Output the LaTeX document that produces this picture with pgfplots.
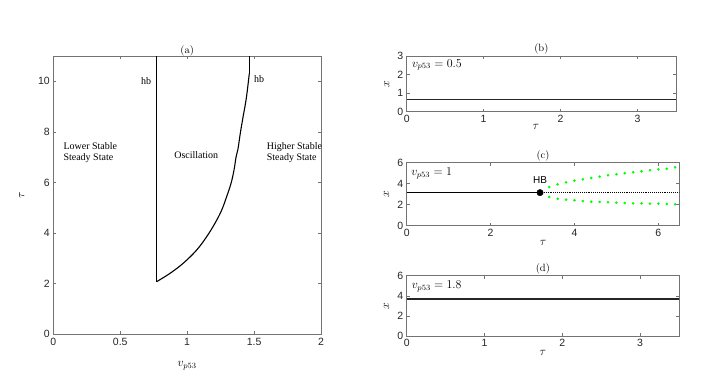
\documentclass[border=0pt]{standalone}
\usepackage{fontspec}
\usepackage{pgfplots}
\pgfplotsset{compat=1.18}
\newfontfamily\arialf{Liberation Sans}
\newfontfamily\timesf{Liberation Serif}

\pgfplotsset{
  matlab/.style={
    scale only axis,
    axis line style={black!55, line width=0.5pt},
    every tick/.style={black!55, line width=0.5pt},
    tick align=inside,
    major tick length=3pt,
    tick label style={font=\arialf\fontsize{10.5}{12}\selectfont, text=black!85},
    /pgf/number format/assume math mode=true,
    every axis title shift=0pt,
    title style={font=\fontsize{10.5}{12}\selectfont, anchor=center, inner sep=0pt},
    label style={font=\fontsize{12}{14}\selectfont},
    ylabel style={anchor=center},
    xlabel style={anchor=center},
  },
}
\tikzset{note/.style={font=\fontsize{11.5}{13}\selectfont, anchor=west, inner sep=0pt}}

\begin{document}
\begin{tikzpicture}
\fill[white] (0pt,0pt) rectangle (707pt,376pt);
\path[use as bounding box] (0pt,0pt) rectangle (707pt,376pt);

% (a) two-parameter diagram
\begin{axis}[matlab,
  at={(53.3pt,41.7pt)}, anchor=south west,
  width=267.7pt, height=278.3pt,
  xmin=0, xmax=2, ymin=0, ymax=11,
  xtick={0,0.5,1,1.5,2}, ytick={0,2,4,6,8,10},
  title={(a)},
  title style={at={(axis description cs:0.5,1.02)}},
  xlabel={$v_{p53}$}, ylabel={$\tau$},
  xlabel style={at={(axis description cs:0.5,-0.114)}},
  ylabel style={at={(axis description cs:-0.118,0.5)}},
]
\addplot[black, line width=1.1pt] coordinates {(0.772,11) (0.772,2.08)};
\addplot[black, line width=1.1pt, smooth, tension=0.6] coordinates {
  (0.772,2.08) (0.872,2.41) (0.971,2.81) (1.071,3.33) (1.146,3.86)
  (1.208,4.39) (1.258,4.91) (1.295,5.44) (1.328,5.97) (1.35,6.49)
  (1.366,7.02) (1.379,7.3) (1.397,7.94) (1.418,8.6) (1.44,9.26)
  (1.456,9.92) (1.464,10.3)
};
\addplot[black, line width=1.1pt] coordinates {(1.464,10.3) (1.464,11)};
\node[font=\timesf\fontsize{10}{11.3}\selectfont, align=left, anchor=west] at (axis cs:0.05,7.17) {Lower Stable\\Steady State};
\node[font=\timesf\fontsize{10}{11.3}\selectfont] at (axis cs:1.068,7.1) {Oscillation};
\node[font=\timesf\fontsize{10}{11.3}\selectfont, align=left, anchor=west] at (axis cs:1.569,7.17) {Higher Stable\\Steady State};
\node[font=\timesf\fontsize{10}{11.3}\selectfont] at (axis cs:0.693,10.02) {hb};
\node[font=\timesf\fontsize{10}{11.3}\selectfont] at (axis cs:1.537,10.09) {hb};
\end{axis}

% (b) v_p53 = 0.5
\begin{axis}[matlab,
  at={(406.7pt,264.3pt)}, anchor=south west,
  width=269.3pt, height=55.7pt,
  xmin=0, xmax=3.5, ymin=0, ymax=3,
  xtick={0,1,2,3}, ytick={0,1,2,3},
  title={(b)},
  title style={at={(axis description cs:0.5,1.12)}},
  xlabel={$\tau$}, ylabel={$x$},
  xlabel style={at={(axis description cs:0.48,-0.282)}},
  ylabel style={at={(axis description cs:-0.074,0.5)}},
]
\addplot[black!85, line width=1.3pt] coordinates {(0,0.65) (3.5,0.65)};
\node[note] at (rel axis cs:0.019,0.84) {$v_{p53}=0.5$};
\end{axis}

% (c) v_p53 = 1
\begin{axis}[matlab,
  at={(406.7pt,150.3pt)}, anchor=south west,
  width=272.6pt, height=63pt,
  xmin=0, xmax=6.5, ymin=0, ymax=6,
  xtick={0,2,4,6}, ytick={0,2,4,6},
  title={(c)},
  title style={at={(axis description cs:0.5,1.11)}},
  xlabel={$\tau$}, ylabel={$x$},
  xlabel style={at={(axis description cs:0.5,-0.27)}},
  ylabel style={at={(axis description cs:-0.074,0.5)}},
]
\addplot[black, line width=1.1pt] coordinates {(0,3.15) (3.18,3.15)};
\addplot[black, line width=0.9pt, densely dotted] coordinates {(3.18,3.15) (6.5,3.15)};
\addplot[only marks, mark=*, mark size=1.1pt, color=green] coordinates {
  (3.4,3.69) (3.6,3.94) (3.8,4.13) (4.0,4.29) (4.2,4.42) (4.4,4.54)
  (4.6,4.67) (4.8,4.80) (5.0,4.90) (5.2,4.99) (5.4,5.09) (5.6,5.18)
  (5.8,5.28) (6.0,5.37) (6.2,5.43) (6.4,5.56)
};
\addplot[only marks, mark=*, mark size=1.1pt, color=green] coordinates {
  (3.4,2.73) (3.6,2.57) (3.8,2.48) (4.0,2.42) (4.2,2.35) (4.4,2.29)
  (4.6,2.26) (4.8,2.23) (5.0,2.19) (5.2,2.16) (5.4,2.13) (5.6,2.13)
  (5.8,2.10) (6.0,2.10) (6.2,2.07) (6.4,2.04)
};
\addplot[only marks, mark=*, mark size=3.2pt, color=black] coordinates {(3.18,3.15)};
\node[font=\arialf\fontsize{10}{12}\selectfont] at (axis cs:3.18,4.35) {HB};
\node[note] at (rel axis cs:0.016,0.83) {$v_{p53}=1$};
\end{axis}

% (d) v_p53 = 1.8
\begin{axis}[matlab,
  at={(406.7pt,40pt)}, anchor=south west,
  width=272.3pt, height=60.3pt,
  xmin=0, xmax=3.5, ymin=0, ymax=6,
  xtick={0,1,2,3}, ytick={0,2,4,6},
  title={(d)},
  title style={at={(axis description cs:0.5,1.11)}},
  xlabel={$\tau$}, ylabel={$x$},
  xlabel style={at={(axis description cs:0.5,-0.287)}},
  ylabel style={at={(axis description cs:-0.074,0.5)}},
]
\addplot[black!85, line width=1.3pt] coordinates {(0,3.68) (3.5,3.68)};
\node[note] at (rel axis cs:0.018,0.82) {$v_{p53}=1.8$};
\end{axis}
\end{tikzpicture}
\end{document}
